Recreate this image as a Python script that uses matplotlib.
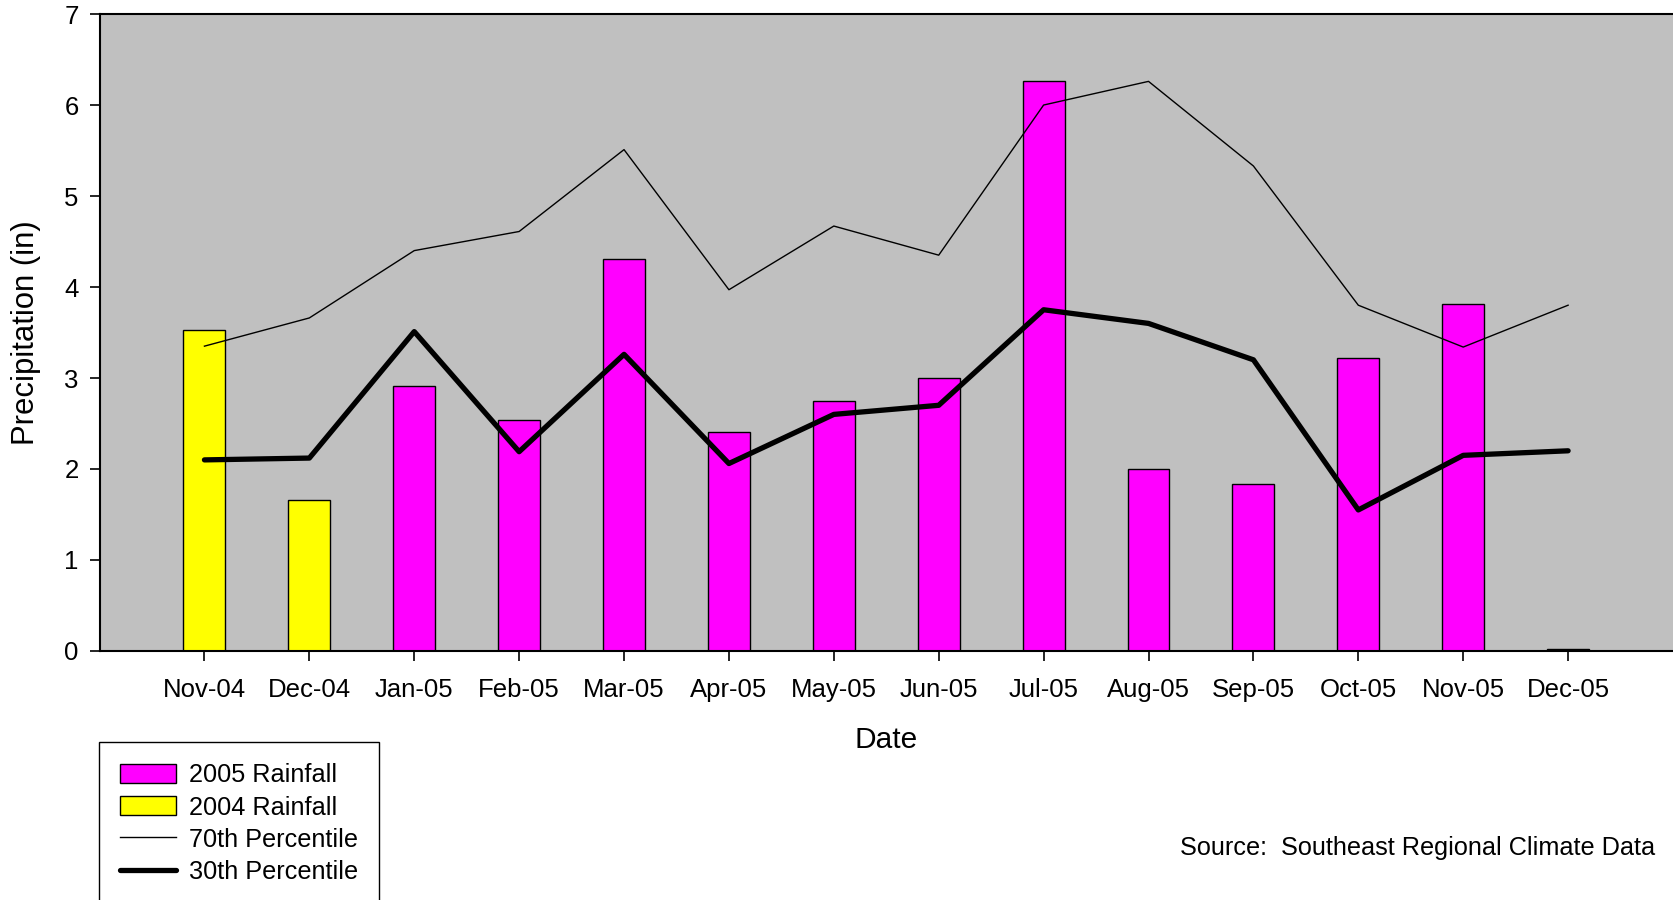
import numpy as np
import matplotlib
matplotlib.use("Agg")
import matplotlib.pyplot as plt
from matplotlib.patches import Patch
from matplotlib.lines import Line2D

# data
months = ["Nov-04", "Dec-04", "Jan-05", "Feb-05", "Mar-05", "Apr-05", "May-05",
          "Jun-05", "Jul-05", "Aug-05", "Sep-05", "Oct-05", "Nov-05", "Dec-05"]
rain_2004 = [3.53, 1.66]
rain_2005 = [2.91, 2.54, 4.31, 2.41, 2.75, 3.00, 6.26, 2.00, 1.83, 3.22, 3.81, 0.02]
pct_70 = [3.35, 3.66, 4.40, 4.61, 5.51, 3.97, 4.67, 4.35, 6.00, 6.26, 5.33, 3.80, 3.34, 3.80]
pct_30 = [2.10, 2.12, 3.51, 2.19, 3.26, 2.06, 2.60, 2.70, 3.75, 3.60, 3.20, 1.55, 2.15, 2.20]

plt.rcParams["font.family"] = ["Liberation Sans", "DejaVu Sans"]

fig = plt.figure(figsize=(16.73, 9.0), dpi=100)
ax = fig.add_axes([0.0595, 0.2767, 0.9405, 0.7077])
ax.set_facecolor("#C0C0C0")

x = np.arange(len(months))
n04 = len(rain_2004)
ax.bar(x[:n04], rain_2004, width=0.4, color="#FFFF00", edgecolor="black", linewidth=1.0, zorder=2)
ax.bar(x[n04:], rain_2005, width=0.4, color="#FF00FF", edgecolor="black", linewidth=1.0, zorder=2)
ax.plot(x, pct_70, color="black", linewidth=1.0, zorder=3)
ax.plot(x, pct_30, color="black", linewidth=3.8, solid_capstyle="round", zorder=3)

ax.set_xlim(-1, len(months))
ax.set_ylim(0, 7)
ax.set_xticks(x)
ax.set_xticklabels(months)
ax.set_yticks(range(0, 8))
ax.tick_params(axis="both", direction="out", length=7, width=1.2, labelsize=18.5)
ax.tick_params(axis="x", pad=12.5)
ax.tick_params(axis="y", pad=8)

for side in ("left", "bottom", "top"):
    ax.spines[side].set_linewidth(1.5)
ax.spines["right"].set_visible(False)

ax.set_xlabel("Date", fontsize=21.5)
ax.xaxis.set_label_coords(0.5, -0.14)
ax.xaxis.label.set_va("center")
ax.set_ylabel("Precipitation (in)", fontsize=22.3)
ax.yaxis.set_label_coords(-0.047, 0.5)
ax.yaxis.label.set_va("center")

handles = [
    Patch(facecolor="#FF00FF", edgecolor="black", linewidth=1.0),
    Patch(facecolor="#FFFF00", edgecolor="black", linewidth=1.0),
    Line2D([], [], color="black", linewidth=1.0),
    Line2D([], [], color="black", linewidth=3.8, solid_capstyle="round"),
]
labels = ["2005 Rainfall", "2004 Rainfall", "70th Percentile", "30th Percentile"]
leg = fig.legend(handles, labels, loc="upper left", bbox_to_anchor=(99 / 1673, 1 - 742 / 900),
                 bbox_transform=fig.transFigure, fontsize=18.2, frameon=True, fancybox=False,
                 edgecolor="black", framealpha=1, borderpad=0.85, labelspacing=0.32,
                 handlelength=2.2, handleheight=0.8, handletextpad=0.5, borderaxespad=0)
leg.get_frame().set_linewidth(1.0)

fig.text(1655 / 1673, 1 - 848 / 900, "Source:  Southeast Regional Climate Data",
         ha="right", va="center", fontsize=18.2)

fig.savefig("out.png", dpi=100)
